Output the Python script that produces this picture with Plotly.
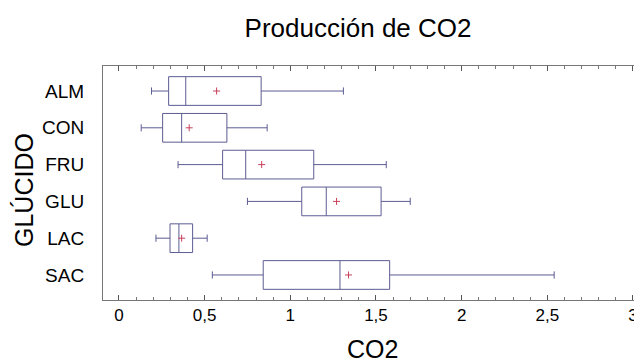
import plotly.graph_objects as go

categories = ["ALM", "CON", "FRU", "GLU", "LAC", "SAC"]
lower_whisker = [0.19, 0.13, 0.345, 0.75, 0.216, 0.545]
q1_values = [0.29, 0.255, 0.605, 1.067, 0.298, 0.842]
median_values = [0.39, 0.366, 0.74, 1.21, 0.35, 1.29]
q3_values = [0.83, 0.63, 1.137, 1.53, 0.43, 1.58]
upper_whisker = [1.31, 0.865, 1.56, 1.70, 0.515, 2.54]
mean_values = [0.57, 0.41, 0.833, 1.27, 0.366, 1.34]

x_tick_values = [0, 0.5, 1, 1.5, 2, 2.5, 3]
x_tick_labels = ["0", "0,5", "1", "1,5", "2", "2,5", "3"]

FONT = "Liberation Sans, Arial, sans-serif"
BOX_COLOR = "#5c5c92"

fig = go.Figure()
fig.add_trace(go.Box(
    y=categories,
    q1=q1_values,
    median=median_values,
    q3=q3_values,
    lowerfence=lower_whisker,
    upperfence=upper_whisker,
    orientation="h",
    width=0.78,
    whiskerwidth=0.25,
    line=dict(color=BOX_COLOR, width=1),
    fillcolor="rgba(255,255,255,0)",
    boxpoints=False,
    showlegend=False,
    hoverinfo="skip",
))
fig.add_trace(go.Scatter(
    x=mean_values,
    y=categories,
    mode="markers",
    marker=dict(symbol="cross-thin", size=5, line=dict(color="#c8405a", width=1)),
    showlegend=False,
    hoverinfo="skip",
))

# page is offset by the browser's 8px body margin
W, H = 634, 356
fig.update_layout(
    width=W,
    height=H,
    margin=dict(l=95, r=2, t=58, b=64, autoexpand=False),
    paper_bgcolor="white",
    plot_bgcolor="white",
    font=dict(family=FONT, color="black"),
    title=dict(
        text="Producción de CO2",
        font=dict(size=26, family=FONT, color="black"),
        x=0.475, xref="paper", xanchor="center",
        y=1 - 20 / H, yref="container", yanchor="middle",
    ),
    xaxis=dict(
        range=[-0.093, 3.041],
        tickvals=x_tick_values,
        ticktext=x_tick_labels,
        ticks="inside",
        ticklen=5,
        tickcolor="#555555",
        tickfont=dict(size=17, family=FONT),
        minor=dict(dtick=0.1, ticks="inside", ticklen=3, tickcolor="#777777", showgrid=False),
        showgrid=False,
        zeroline=False,
        showline=True,
        linecolor="#777777",
        linewidth=1,
        mirror="ticks",
        automargin=False,
    ),
    yaxis=dict(
        categoryorder="array",
        categoryarray=categories,
        range=[5.68, -0.68],
        ticks="",
        ticklabelstandoff=14,
        tickfont=dict(size=19, family=FONT),
        showgrid=False,
        zeroline=False,
        showline=True,
        linecolor="#777777",
        linewidth=1,
        mirror=True,
        automargin=False,
    ),
    annotations=[
        dict(text="CO2", x=(372 - 103) / 537, y=-(349 - 300) / 234, xref="paper", yref="paper",
             xanchor="center", yanchor="middle", showarrow=False,
             font=dict(size=25, family=FONT, color="black")),
        dict(text="GLÚCIDO", x=-(103 - 24) / 537, y=(300 - 190) / 234, xref="paper", yref="paper",
             xanchor="center", yanchor="middle", showarrow=False, textangle=-90,
             font=dict(size=25, family=FONT, color="black")),
    ],
)

fig.write_html("out.html")
